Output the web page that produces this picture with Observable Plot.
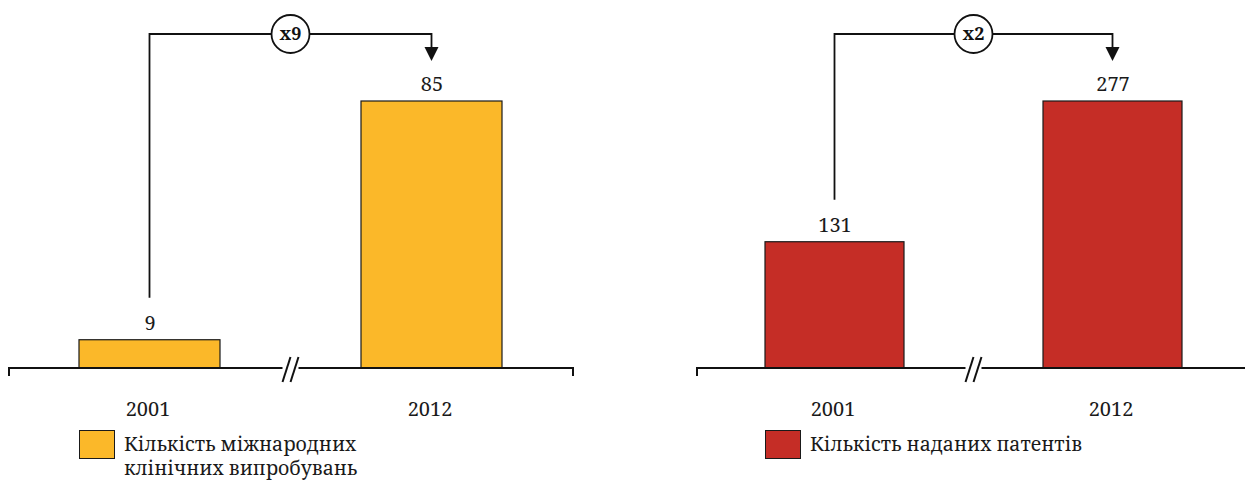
<!DOCTYPE html>
<html>
<head>
<meta charset="utf-8">
<script src="https://cdn.jsdelivr.net/npm/d3@7"></script>
<script src="https://cdn.jsdelivr.net/npm/@observablehq/plot@0.6"></script>
<style>
  body { margin: 0; background: #fff; font-family: "Noto Serif", "Liberation Serif", serif; }
  #wrap { position: relative; width: 1245px; height: 480px; overflow: hidden; }
  .panel { position: absolute; top: 0; }
  .legend { position: absolute; top: 430px; display: flex; align-items: flex-start; font-family: "Noto Serif", "Liberation Serif", serif; font-size: 19.5px; line-height: 24px; color: #1a1a1a; }
  .swatch { width: 34px; height: 27px; border: 1px solid #1a1a1a; margin-right: 9px; flex: none; }
  .legend span { margin-top: 2px; }
</style>
</head>
<body>
<div id="wrap">
  <div class="panel" id="left" style="left:0;width:600px"></div>
  <div class="panel" id="right" style="left:600px;width:645px"></div>
</div>
<script>
const years = ["2001", "2012"];
const trials = [9, 85];
const patents = [131, 277];
const trialsFactor = "x9";
const patentsFactor = "x2";
const trialsLabel = ["Кількість міжнародних", "клінічних випробувань"];
const patentsLabel = ["Кількість наданих патентів"];
const yellow = "#fbb829";
const red = "#c52d26";

const FONT = "Noto Serif, Liberation Serif, serif";

function decorations(values, factor) {
  return (index, scales, vals, dim) => {
    const x = scales.x, y = scales.y;
    const bw = x.bandwidth ? x.bandwidth() : 140;
    const x1 = x(years[0]) + bw / 2;
    const x2 = x(years[1]) + bw / 2;
    const y0 = y(0);
    const yMax = y(Math.max(...values));
    const yTop = yMax - 67;
    const yStart = y(values[0]) - 42;
    const yTip = y(values[1]) - 40;
    const g = d3.create("svg:g");
    const left = dim.marginLeft, right = dim.width - dim.marginRight;
    g.append("path")
      .attr("d", `M${left},${y0 + 8}V${y0}H${right}` + (dim.marginRight > 0 ? `V${y0 + 8}` : ""))
      .attr("fill", "none").attr("stroke", "#111").attr("stroke-width", 2);
    const mid = (x(years[0]) + bw + x(years[1])) / 2;
    g.append("rect").attr("x", mid - 8).attr("y", y0 - 2).attr("width", 16).attr("height", 4).attr("fill", "#fff");
    for (const off of [-4, 4]) {
      g.append("line")
        .attr("x1", mid + off + 4).attr("y1", y0 - 11)
        .attr("x2", mid + off - 4).attr("y2", y0 + 14)
        .attr("stroke", "#111").attr("stroke-width", 2);
    }
    g.append("path")
      .attr("d", `M${x1},${yStart}V${yTop}H${x2}V${yTip - 13}`)
      .attr("fill", "none").attr("stroke", "#111").attr("stroke-width", 1.8);
    g.append("path")
      .attr("d", `M${x2 - 7},${yTip - 14}L${x2 + 7},${yTip - 14}L${x2},${yTip}Z`)
      .attr("fill", "#111");
    const cx = (x1 + x2) / 2;
    g.append("circle").attr("cx", cx).attr("cy", yTop).attr("r", 19)
      .attr("fill", "#fff").attr("stroke", "#111").attr("stroke-width", 1.8);
    g.append("text").attr("x", cx).attr("y", yTop).attr("dy", "0.35em")
      .attr("text-anchor", "middle").attr("font-weight", "bold")
      .attr("font-size", 18).attr("font-family", FONT).attr("fill", "#111")
      .text(factor);
    return g.node();
  };
}

function panel(values, color, factor, opts) {
  const data = years.map((year, i) => ({year, value: values[i]}));
  return Plot.plot({
    width: opts.width,
    height: 430,
    marginLeft: opts.marginLeft,
    marginRight: opts.marginRight,
    marginTop: 0,
    marginBottom: 62,
    style: {fontFamily: FONT, background: "transparent", overflow: "visible"},
    x: {type: "band", domain: years, range: opts.xRange, paddingInner: 0.5, paddingOuter: 0, axis: null},
    y: {domain: [0, Math.max(...values)], range: [368, 101], axis: null},
    marks: [
      Plot.barY(data, {x: "year", y: "value", fill: color, stroke: "#1a1a1a", strokeWidth: 1.2}),
      Plot.text(data, {x: "year", y: "value", text: d => String(d.value), dy: -17, lineAnchor: "middle", fontSize: 20, fill: "#1a1a1a"}),
      Plot.text(data, {x: "year", text: "year", frameAnchor: "bottom", dy: 41, dx: -2, lineAnchor: "middle", fontSize: 20, fill: "#1a1a1a"}),
      decorations(values, factor)
    ]
  });
}

function legend(parent, color, lines, left) {
  const div = document.createElement("div");
  div.className = "legend";
  div.style.left = left + "px";
  const sw = document.createElement("div");
  sw.className = "swatch";
  sw.style.background = color;
  div.appendChild(sw);
  const span = document.createElement("span");
  span.innerHTML = lines.join("<br>");
  div.appendChild(span);
  parent.appendChild(div);
}

const leftEl = document.getElementById("left");
leftEl.appendChild(panel(trials, yellow, trialsFactor, {width: 600, marginLeft: 9, marginRight: 27, xRange: [79, 502]}));
legend(leftEl, yellow, trialsLabel, 79);

const rightEl = document.getElementById("right");
rightEl.appendChild(panel(patents, red, patentsFactor, {width: 645, marginLeft: 97, marginRight: 0, xRange: [165, 582]}));
legend(rightEl, red, patentsLabel, 165);
</script>
</body>
</html>
